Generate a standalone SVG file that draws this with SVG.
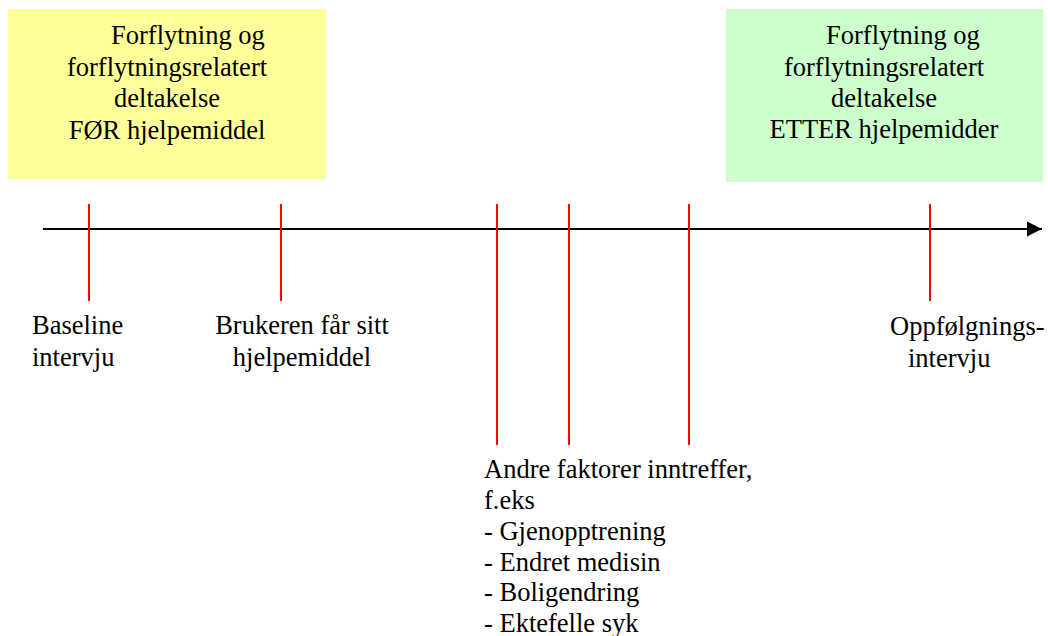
<svg xmlns="http://www.w3.org/2000/svg" width="1048" height="636" viewBox="0 0 1048 636">
<style>
.c{text-anchor:middle}
.tick{stroke:#FF0000;stroke-width:2}
.axis{stroke:#000;stroke-width:2.2}
</style>
<defs>
<marker id="arr" markerUnits="userSpaceOnUse" markerWidth="16" markerHeight="16" refX="15" refY="8" orient="auto">
<path d="M0,0.5 L15,8 L0,15.5 Z" fill="#000"/>
</marker>
</defs>
<rect width="1048" height="636" fill="#fff"/>
<g font-family="Liberation Serif, serif" font-size="26.5" fill="#000">
<g id="before">
<rect x="8" y="9" width="318" height="170" fill="#FFFF99"/>
<text x="111" y="44">Forflytning og</text>
<text class="c" x="167" y="76">forflytningsrelatert</text>
<text class="c" x="167" y="107">deltakelse</text>
<text class="c" x="167" y="139">FØR hjelpemiddel</text>
</g>
<g id="after">
<rect x="726" y="9" width="317" height="173" fill="#CCFFCC"/>
<text x="826" y="44">Forflytning og</text>
<text class="c" x="884" y="76">forflytningsrelatert</text>
<text class="c" x="884" y="107">deltakelse</text>
<text class="c" x="884" y="138">ETTER hjelpemidder</text>
</g>
<g id="baseline">
<text x="32" y="334">Baseline</text>
<text x="32" y="366">intervju</text>
</g>
<g id="bruker">
<text class="c" x="302" y="334">Brukeren får sitt</text>
<text class="c" x="302" y="366">hjelpemiddel</text>
</g>
<g id="oppfolging">
<text x="890" y="335">Oppfølgnings-</text>
<text x="908" y="367">intervju</text>
</g>
<g id="faktorer">
<text x="484" y="478">Andre faktorer inntreffer,</text>
<text x="484" y="509">f.eks</text>
<text x="484" y="540">- Gjenopptrening</text>
<text x="484" y="571">- Endret medisin</text>
<text x="484" y="601">- Boligendring</text>
<text x="484" y="632">- Ektefelle syk</text>
</g>
</g>
<g id="connectors">
<line class="axis" x1="43" y1="229" x2="1042" y2="229" marker-end="url(#arr)"/>
<line class="tick" x1="89" y1="204" x2="89" y2="301"/>
<line class="tick" x1="281" y1="204" x2="281" y2="301"/>
<line class="tick" x1="497" y1="204" x2="497" y2="445"/>
<line class="tick" x1="569" y1="204" x2="569" y2="445"/>
<line class="tick" x1="689" y1="204" x2="689" y2="445"/>
<line class="tick" x1="930" y1="204" x2="930" y2="301"/>
</g>
</svg>
